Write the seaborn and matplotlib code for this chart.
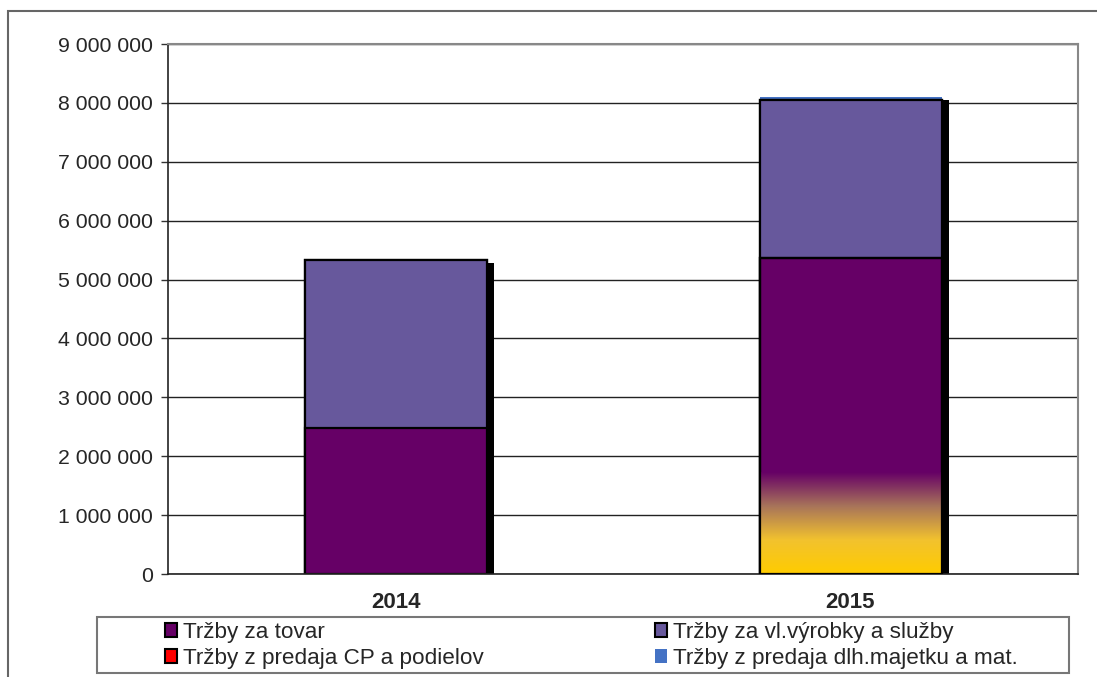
import numpy as np
import matplotlib
matplotlib.use("Agg")
import matplotlib.pyplot as plt
import matplotlib.transforms as mtransforms
from matplotlib.patches import Patch, Rectangle
from matplotlib.colors import LinearSegmentedColormap
import seaborn as sns

years = ["2014", "2015"]
trzby_tovar = [2480000, 5370000]
trzby_vyrobky = [2850000, 2680000]
trzby_cp = [0, 0]
trzby_majetok = [0, 45000]

labels = ["Tržby za tovar", "Tržby za vl.výrobky a služby",
          "Tržby z predaja CP a podielov", "Tržby z predaja dlh.majetku a mat."]
colors = ["#660066", "#67589C", "#FF0000", "#4472C4"]

sns.set_style("white")
plt.rcParams["font.family"] = ["Liberation Sans", "DejaVu Sans"]

fig = plt.figure(figsize=(10.97, 6.77), dpi=100)
ax = fig.add_axes([168 / 1097, 1 - 574 / 677, 910 / 1097, 530 / 677])

series = [trzby_tovar, trzby_vyrobky, trzby_cp, trzby_majetok]
cum = np.cumsum(np.array(series), axis=0)

# shadow behind the whole stack
sns.barplot(x=years, y=cum[-1], color="black", width=0.4, saturation=1,
            linewidth=0, ax=ax)
shift = mtransforms.ScaledTranslation(7.5 / 100, -3 / 100, fig.dpi_scale_trans)
for p in ax.patches:
    p.set_transform(ax.transData + shift)

# stacked bars: draw cumulative totals from top series down
for i in range(len(series) - 1, -1, -1):
    ec = "none" if i == 3 else "black"
    sns.barplot(x=years, y=cum[i], color=colors[i], width=0.4, saturation=1,
                edgecolor=ec, linewidth=1.6, ax=ax)

# gradient at the bottom of the 2015 goods bar
tov_patch = ax.patches[-1]
bx, by = tov_patch.get_x(), tov_patch.get_y()
bw, bh = tov_patch.get_width(), tov_patch.get_height()
cmap = LinearSegmentedColormap.from_list(
    "grad", ["#FFCC00", "#F2C22E", "#A8745A", "#660066"])
grad = np.linspace(0, 1, 256).reshape(-1, 1)
im = ax.imshow(grad, cmap=cmap, origin="lower", aspect="auto",
               extent=[bx, bx + bw, by, by + bh * 0.32], zorder=2.5)
im.set_clip_path(tov_patch)
ax.add_patch(Rectangle((bx, by), bw, bh, fill=False, ec="black",
                       lw=1.6, zorder=2.6))

ax.set_xlim(-0.5, 1.5)
ax.set_ylim(0, 9000000)
ax.set_yticks(np.arange(0, 9000001, 1000000))
ax.set_yticklabels([f"{int(v):,}".replace(",", " ") for v in ax.get_yticks()],
                   fontsize=15.3)
ax.yaxis.grid(True, color="#222222", lw=1.0)
ax.set_axisbelow(True)
ax.set_xlabel("")
ax.set_ylabel("")
for lab in ax.get_xticklabels():
    lab.set_fontweight("bold")
    lab.set_fontsize(16)
ax.tick_params(axis="x", length=0, pad=13)
ax.set_xticks([-0.5, 0.5, 1.5], minor=True)
ax.tick_params(axis="x", which="minor", length=5, color="#333333", width=1)
ax.tick_params(axis="y", length=5, color="#333333", width=1, left=True, pad=6)

for s in ["top", "right"]:
    ax.spines[s].set_color("#888888")
    ax.spines[s].set_linewidth(1.5)
for s in ["left", "bottom"]:
    ax.spines[s].set_color("#222222")
    ax.spines[s].set_linewidth(1.2)

# outer border and legend frame
fig.patches.append(Rectangle((8 / 1097, -0.1), 2, 1 - 11 / 677 + 0.1,
                             transform=fig.transFigure, fill=False,
                             ec="#666666", lw=1.5))
fig.patches.append(Rectangle((97 / 1097, 1 - 673 / 677), 972 / 1097, 56 / 677,
                             transform=fig.transFigure, fill=False,
                             ec="#777777", lw=1.5))

handles = [Patch(facecolor=colors[0], edgecolor="black", lw=1.5),
           Patch(facecolor=colors[2], edgecolor="black", lw=1.5),
           Patch(facecolor=colors[1], edgecolor="black", lw=1.5),
           Patch(facecolor=colors[3], edgecolor="none")]
leg_labels = [labels[0], labels[2], labels[1], labels[3]]
fig.legend(handles, leg_labels, ncol=2, loc="upper left",
           bbox_to_anchor=(165 / 1097, 1 - 622 / 677), frameon=False,
           fontsize=16.2, handlelength=0.55, handleheight=0.55,
           handletextpad=0.25, columnspacing=7.6, labelspacing=0.22,
           borderpad=0, borderaxespad=0)

fig.savefig("out.png", dpi=100)
